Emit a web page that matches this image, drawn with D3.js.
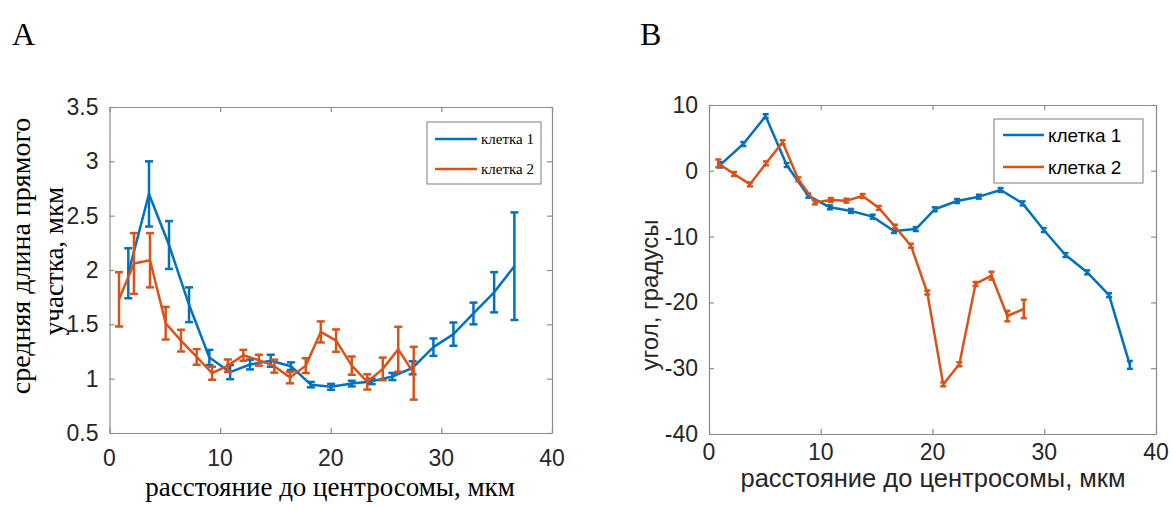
<!DOCTYPE html>
<html>
<head>
<meta charset="utf-8">
<script src="https://cdn.jsdelivr.net/npm/d3@7"></script>
<style>
body{margin:0;background:#fff;}
</style>
</head>
<body>
<script>
var width=1173, height=510;
var blue="#0072BD", red="#D95319";

// panel A: средняя длина прямого участка
var aX1=[1.7,3.57,5.38,7.19,9.03,10.9,12.7,14.57,16.4,18.2,20.03,21.9,23.7,25.57,27.4,29.28,31.09,32.9,34.77,36.6];
var aY1=[1.97,2.70,2.23,1.68,1.195,1.06,1.13,1.165,1.115,0.945,0.925,0.955,0.975,1.02,1.10,1.29,1.41,1.60,1.795,2.035];
var aE1=[0.23,0.30,0.22,0.16,0.07,0.065,0.045,0.055,0.035,0.025,0.027,0.026,0.025,0.033,0.06,0.08,0.107,0.10,0.185,0.495];
var aX2=[0.86,2.21,3.66,5.08,6.46,7.88,9.27,10.7,12.1,13.5,14.9,16.32,17.74,19.1,20.48,21.9,23.3,24.7,26.1,27.5];
var aY2=[1.73,2.06,2.09,1.51,1.35,1.20,1.05,1.12,1.215,1.17,1.115,1.01,1.12,1.43,1.35,1.12,0.97,1.09,1.27,1.05];
var aE2=[0.25,0.28,0.25,0.15,0.10,0.072,0.06,0.057,0.05,0.05,0.06,0.053,0.068,0.097,0.103,0.084,0.07,0.104,0.207,0.243];

// panel B: угол
var bX1=[1.0,3.07,5.07,6.95,8.88,10.82,12.7,14.64,16.55,18.5,20.2,22.2,24.15,26.1,28.06,29.96,31.9,33.84,35.8,37.66];
var bY1=[0.9,4.07,8.3,0.88,-3.78,-5.55,-6.1,-6.97,-9.15,-8.85,-5.85,-4.59,-3.93,-2.92,-4.95,-9.0,-12.8,-15.43,-18.9,-29.5];
var bE1=[0.4,0.3,0.3,0.3,0.3,0.3,0.3,0.3,0.3,0.3,0.3,0.3,0.3,0.3,0.3,0.3,0.3,0.3,0.3,0.6];
var bX2=[0.83,2.24,3.67,5.1,6.59,7.99,9.48,10.9,12.3,13.75,15.2,16.64,18.07,19.53,20.96,22.4,23.85,25.28,26.7,28.17];
var bY2=[1.13,-0.49,-2.06,1.13,4.33,-1.3,-4.8,-4.44,-4.54,-3.83,-5.65,-8.49,-11.38,-18.5,-32.45,-29.4,-17.2,-15.94,-22.07,-21.0];
var bE2=[0.6,0.3,0.3,0.3,0.3,0.3,0.3,0.3,0.3,0.3,0.3,0.3,0.3,0.3,0.3,0.3,0.3,0.6,0.8,1.4];

var xTicks=[0,10,20,30,40];
var aYTicks=[0.5,1,1.5,2,2.5,3,3.5];
var bYTicks=[-40,-30,-20,-10,0,10];
var names=["клетка 1","клетка 2"];

var serif="Liberation Serif, Times New Roman, serif", sans="Liberation Sans, Arial, sans-serif";

var svg=d3.select("body").append("svg").attr("width",width).attr("height",height);

var drawPanel=function(o){
    var g=svg.append("g");
    var x=d3.scaleLinear().domain([0,40]).range([o.left,o.right]);
    var y=d3.scaleLinear().domain(o.yDomain).range([o.bottom,o.top]);

    // box with inward ticks, like matlab
    var axCol="#8c8c8c";
    g.append("g").attr("transform","translate(0,"+o.bottom+")")
        .call(d3.axisBottom(x).tickValues(xTicks).tickSizeInner(-5).tickSizeOuter(0).tickFormat(""));
    g.append("g").attr("transform","translate(0,"+o.top+")")
        .call(d3.axisTop(x).tickValues(xTicks).tickSizeInner(-5).tickSizeOuter(0).tickFormat(""));
    g.append("g").attr("transform","translate("+o.left+",0)")
        .call(d3.axisLeft(y).tickValues(o.yTicks).tickSizeInner(-5).tickSizeOuter(0).tickFormat(""));
    g.append("g").attr("transform","translate("+o.right+",0)")
        .call(d3.axisRight(y).tickValues(o.yTicks).tickSizeInner(-5).tickSizeOuter(0).tickFormat(""));
    g.selectAll(".domain").attr("stroke",axCol).attr("stroke-width",1.2);
    g.selectAll(".tick line").attr("stroke",axCol).attr("stroke-width",1.2);

    // tick labels
    g.selectAll(".xl").data(xTicks).enter().append("text")
        .attr("x",function(d){return x(d);}).attr("y",o.bottom+o.xlOff)
        .attr("text-anchor","middle").style("font-family",sans)
        .style("font-size","23px").attr("fill","#262626").text(function(d){return d;});
    g.selectAll(".yl").data(o.yTicks).enter().append("text")
        .attr("x",o.left-11).attr("y",function(d){return y(d)+8;})
        .attr("text-anchor","end").style("font-family",sans)
        .style("font-size","23px").attr("fill","#262626").text(function(d){return d;});

    var line=d3.line().x(function(d){return x(d[0]);}).y(function(d){return y(d[1]);});
    o.series.forEach(function(s){
        var pts=s.x.map(function(v,i){return [v,s.y[i],s.e[i]];});
        g.append("path").datum(pts).attr("d",line).attr("fill","none")
            .attr("stroke",s.color).attr("stroke-width",2.5).attr("stroke-linejoin","round");
        var eb=g.append("g").attr("stroke",s.color).attr("stroke-width",2.5);
        pts.forEach(function(p){
            var cx=x(p[0]), y0=y(p[1]-p[2]), y1=y(p[1]+p[2]);
            eb.append("line").attr("x1",cx).attr("x2",cx).attr("y1",y0).attr("y2",y1);
            eb.append("line").attr("x1",cx-o.cap).attr("x2",cx+o.cap).attr("y1",y0).attr("y2",y0);
            eb.append("line").attr("x1",cx-o.cap).attr("x2",cx+o.cap).attr("y1",y1).attr("y2",y1);
        });
    });

    // legend
    var L=o.legend;
    g.append("rect").attr("x",L.x).attr("y",L.y).attr("width",L.w).attr("height",L.h)
        .attr("fill","#fff").attr("stroke","#262626").attr("stroke-opacity",0.6).attr("stroke-width",1);
    o.series.forEach(function(s,i){
        var ly=L.y+L.first+i*L.step;
        g.append("line").attr("x1",L.x+L.lx0).attr("x2",L.x+L.lx1).attr("y1",ly).attr("y2",ly)
            .attr("stroke",s.color).attr("stroke-width",2.5);
        g.append("text").attr("x",L.x+L.tx).attr("y",ly+L.dy).style("font-family",L.font)
            .style("font-size",L.size).attr("fill","#000").text(names[i]);
    });
    return {x:x,y:y};
};

drawPanel({left:109.5,right:552,top:107,bottom:433,yDomain:[0.5,3.5],yTicks:aYTicks,cap:4,xlOff:33,
    series:[{x:aX1,y:aY1,e:aE1,color:blue},{x:aX2,y:aY2,e:aE2,color:red}],
    legend:{x:427,y:122,w:114,h:62,first:17,step:30,lx0:8,lx1:50,tx:54,dy:5,font:serif,size:"15px"}});

drawPanel({left:709,right:1156,top:105,bottom:434,yDomain:[-40,10],yTicks:bYTicks,cap:3,xlOff:26,
    series:[{x:bX1,y:bY1,e:bE1,color:blue},{x:bX2,y:bY2,e:bE2,color:red}],
    legend:{x:994,y:119,w:149,h:64,first:16,step:32,lx0:9,lx1:50,tx:54,dy:7,font:sans,size:"19px"}});

// axis titles
svg.append("text").attr("x",330).attr("y",496).attr("text-anchor","middle")
    .style("font-family",serif).style("font-size","27px")
    .text("расстояние до центросомы, мкм");
svg.append("text").attr("transform","translate(30,256) rotate(-90)").attr("text-anchor","middle")
    .style("font-family",serif).style("font-size","28px")
    .text("средняя длина прямого");
svg.append("text").attr("transform","translate(63,261) rotate(-90)").attr("text-anchor","middle")
    .style("font-family",serif).style("font-size","27px")
    .text("участка, мкм");

svg.append("text").attr("x",933).attr("y",487).attr("text-anchor","middle")
    .style("font-family",sans).style("font-size","25.5px").attr("fill","#262626")
    .text("расстояние до центросомы, мкм");
svg.append("text").attr("transform","translate(658,295) rotate(-90)").attr("text-anchor","middle")
    .style("font-family",sans).style("font-size","24px").attr("fill","#262626")
    .text("угол, градусы");

// panel letters
svg.append("text").attr("x",12).attr("y",45).style("font-family",serif)
    .style("font-size","32px").text("A");
svg.append("text").attr("x",640).attr("y",45).style("font-family",serif)
    .style("font-size","32px").text("B");
</script>
</body>
</html>
